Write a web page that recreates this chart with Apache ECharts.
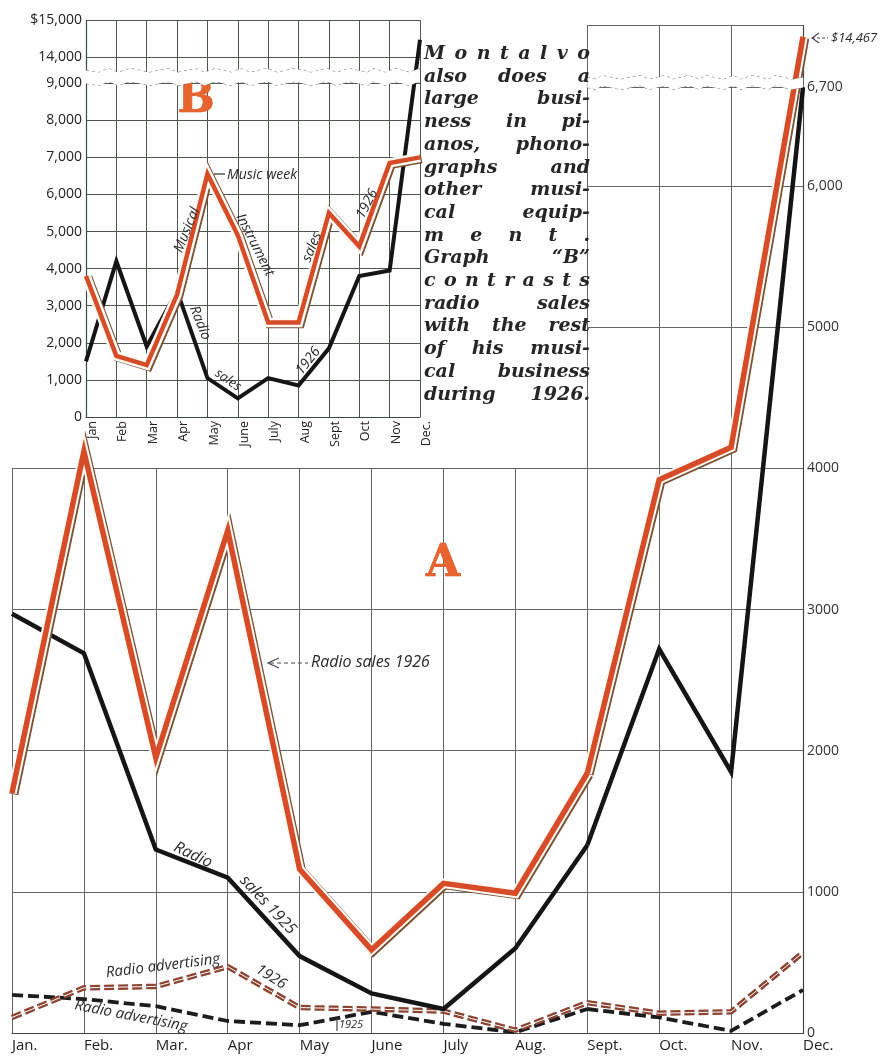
<!DOCTYPE html>
<html>
<head>
<meta charset="utf-8">
<title>Montalvo radio sales</title>
<script src="https://cdn.jsdelivr.net/npm/echarts@6.0.0/dist/echarts.min.js"></script>
<style>
  html, body { margin: 0; padding: 0; background: #fff; }
  #wrap { position: relative; width: 888px; height: 1057px; }
  #chart { width: 888px; height: 1057px; }
  #note {
    position: absolute; left: 424px; top: 41px; width: 166px;
    font-family: "DejaVu Serif", serif; font-style: italic; font-weight: bold;
    font-size: 19px; line-height: 22.7px; color: #262626;
  }
  #note div { text-align: justify; text-align-last: justify; white-space: nowrap; }
</style>
</head>
<body>
<div id="wrap">
  <div id="chart"></div>
  <div id="note"></div>
</div>
<script>
  // ---- data ----
  const months = ['Jan.', 'Feb.', 'Mar.', 'Apr', 'May', 'June', 'July', 'Aug.', 'Sept.', 'Oct.', 'Nov.', 'Dec.'];
  const monthsB = ['Jan', 'Feb', 'Mar', 'Apr', 'May', 'June', 'July', 'Aug', 'Sept', 'Oct', 'Nov', 'Dec.'];

  // graph A
  const radioSales1926 = [1700, 4120, 1950, 3560, 1160, 590, 1060, 990, 1840, 3920, 4150, 14467];
  const radioSales1925 = [2970, 2690, 1300, 1100, 545, 280, 170, 600, 1330, 2720, 1850, 6700];
  const radioAdv1926 = [110, 320, 330, 470, 180, 170, 155, 20, 215, 140, 150, 570];
  const radioAdv1925 = [270, 240, 190, 85, 55, 150, 65, 5, 170, 110, 15, 305];
  const aTickValues = [0, 1000, 2000, 3000, 4000, 5000, 6000, 6700, 14550];
  const aTickLabels = ['0', '1000', '2000', '3000', '4000', '5000', '6,000', '6,700', ''];

  // graph B
  const bRadioSales1926 = [1500, 4200, 1900, 3400, 1050, 500, 1050, 850, 1850, 3800, 3950, 14467];
  const bMusicalSales1926 = [3800, 1650, 1400, 3300, 6550, 4900, 2550, 2550, 5500, 4600, 6850, 7000];
  const bTickValues = [0, 1000, 2000, 3000, 4000, 5000, 6000, 7000, 8000, 9000, 14000, 15000];
  const bTickLabels = ['0', '1,000', '2,000', '3,000', '4,000', '5,000', '6,000', '7,000', '8,000', '9,000', '14,000', '$15,000'];

  const noteLines = ['Montalvo', 'also does a', 'large busi-', 'ness in pi-', 'anos, phono-', 'graphs and',
    'other musi-', 'cal equip-', 'ment.', 'Graph \u201cB\u201d', 'contrasts', 'radio sales',
    'with the rest', 'of his musi-', 'cal business', 'during 1926.'];

  // ---- side text (justified column) ----
  const noteEl = document.getElementById('note');
  const colW = 166;
  noteLines.forEach((t) => {
    const d = document.createElement('div');
    d.textContent = t;
    noteEl.appendChild(d);
    const span = document.createElement('span');
    span.textContent = t;
    span.style.whiteSpace = 'nowrap';
    span.style.position = 'absolute';
    span.style.visibility = 'hidden';
    noteEl.appendChild(span);
    const w = span.getBoundingClientRect().width;
    span.remove();
    if (t.indexOf(' ') < 0) {
      d.style.letterSpacing = ((colW - w) / (t.length - 1)) + 'px';
    } else if (w > colW) {
      d.style.letterSpacing = ((colW - w) / t.length) + 'px';
    }
  });

  // ---- chart ----
  const chart = echarts.init(document.getElementById('chart'));
  const SEPT = 8;
  const L = (a) => a.slice(0, SEPT + 1);
  const R = (a) => a.slice(SEPT);
  const step = (803 - 12) / 11;
  const sansFont = '"Open Sans", "DejaVu Sans", sans-serif';
  const gridColor = '#666';

  const redUnder = { color: '#fffaf3', width: 9.5, join: 'miter', shadowColor: '#7a5234', shadowOffsetX: 1.6, shadowOffsetY: 1.2, shadowBlur: 0 };
  const redTop = { color: '#d64c28', width: 5.5, join: 'miter' };
  const blackSolid = { color: '#151515', width: 4.5, join: 'miter' };
  const advUnder = { color: '#8b4332', width: 5.5, type: [10, 4] };
  const advTop = { color: '#fff', width: 1, type: [10, 4] };
  const advBlack = { color: '#1c1c1c', width: 3.8, type: [11, 5] };

  function line(axis, data, lineStyle, z) {
    return {
      type: 'line', xAxisIndex: axis, yAxisIndex: axis, data: data, lineStyle: lineStyle, z: z,
      symbol: 'none', silent: true, clip: axis !== 0, animation: false
    };
  }

  const series = [];
  [[0, L], [1, R]].forEach(([ax, part]) => {
    series.push(line(ax, part(radioAdv1925), advBlack, 2));
    series.push(line(ax, part(radioAdv1926), advUnder, 3));
    series.push(line(ax, part(radioAdv1926), advTop, 4));
    series.push(line(ax, part(radioSales1925), blackSolid, 5));
    series.push(line(ax, part(radioSales1926), redUnder, 6));
    series.push(line(ax, part(radioSales1926), redTop, 7));
  });
  series.push(line(2, bRadioSales1926, Object.assign({}, blackSolid, { width: 4 }), 5));
  series.push(line(2, bMusicalSales1926, redUnder, 6));
  series.push(line(2, bMusicalSales1926, Object.assign({}, redTop, { width: 4.5 }), 7));

  const deg = (d) => d * Math.PI / 180;
  function note(text, x, y, rot, size, extra) {
    return {
      type: 'text', x: x, y: y, rotation: deg(rot || 0), z: 30, silent: true,
      style: Object.assign({
        text: text, font: 'italic ' + size + 'px ' + sansFont, fill: '#2a2a2a',
        align: 'center', verticalAlign: 'middle'
      }, extra || {})
    };
  }
  function seg(x1, y1, x2, y2, dash, color) {
    return { type: 'line', z: 30, silent: true, shape: { x1, y1, x2, y2 },
      style: { stroke: color || '#4d4558', lineWidth: 1.2, lineDash: dash || null } };
  }
  function head(points, color) {
    return { type: 'polyline', z: 30, silent: true, shape: { points: points },
      style: { stroke: color || '#4d4558', lineWidth: 1.2, fill: null } };
  }
  const bigLetter = (t, x, y) => ({
    type: 'text', x: x, y: y, z: 30, silent: true,
    style: { text: t, font: 'bold 44px "DejaVu Serif", serif', fill: '#e8642f', stroke: '#c8451e', lineWidth: 0.6, align: 'center', verticalAlign: 'middle' }
  });

  const breakStyle = { color: '#fff', borderColor: '#666', borderWidth: 1, opacity: 1 };

  const option = {
    animation: false,
    backgroundColor: '#fff',
    grid: [
      { id: 'aLeft', left: 12, right: 888 - (12 + SEPT * step), top: 468, bottom: 24, outerBoundsMode: 'none' },
      { id: 'aRight', left: 12 + SEPT * step, right: 85, top: 25, bottom: 24, outerBoundsMode: 'none' },
      { id: 'b', left: 86, right: 468, top: 20, bottom: 640, outerBoundsMode: 'none' }
    ],
    xAxis: [
      {
        gridIndex: 0, type: 'category', data: L(months), boundaryGap: false,
        axisLine: { lineStyle: { color: '#444', width: 1.2 } }, axisTick: { show: false },
        splitLine: { show: true, lineStyle: { color: gridColor, width: 1 } },
        axisLabel: { interval: 0, align: 'left', margin: 5, color: '#222', fontSize: 15, fontFamily: sansFont }
      },
      {
        gridIndex: 1, type: 'category', data: R(months), boundaryGap: false,
        axisLine: { lineStyle: { color: '#444', width: 1.2 } }, axisTick: { show: false },
        splitLine: { show: true, lineStyle: { color: gridColor, width: 1 } },
        axisLabel: { interval: 0, align: 'left', margin: 5, color: '#222', fontSize: 15, fontFamily: sansFont,
          formatter: (v, i) => (i === 0 ? '' : v) }
      },
      {
        gridIndex: 2, type: 'category', data: monthsB, boundaryGap: false,
        axisLine: { lineStyle: { color: '#3b4a3b', width: 1.2 } }, axisTick: { show: false },
        splitLine: { show: true, lineStyle: { color: '#4c574c', width: 1 } },
        axisLabel: { interval: 0, rotate: 90, verticalAlign: 'top', margin: 4, color: '#222', fontSize: 12.5, fontFamily: sansFont }
      }
    ],
    yAxis: [
      {
        gridIndex: 0, type: 'value', min: 0, max: 4000, interval: 1000,
        axisLine: { show: false }, axisTick: { show: false }, axisLabel: { show: false },
        splitLine: { show: true, lineStyle: { color: gridColor, width: 1 } }
      },
      {
        gridIndex: 1, type: 'value', position: 'right', min: 0, max: 14550,
        breaks: [{ start: 6700, end: 14180, gap: '1%' }],
        breakArea: { show: true, itemStyle: breakStyle, zigzagAmplitude: 2, zigzagZ: 100, expandOnClick: false },
        axisLine: { show: true, lineStyle: { color: '#444', width: 1.2 } },
        axisTick: { show: false, customValues: aTickValues },
        splitLine: { show: true, lineStyle: { color: gridColor, width: 1 } },
        axisLabel: {
          customValues: aTickValues, margin: 4, color: '#333', fontSize: 14, fontFamily: sansFont,
          formatter: (v) => { const i = aTickValues.indexOf(v); return i < 0 ? '' : aTickLabels[i]; }
        }
      },
      {
        gridIndex: 2, type: 'value', min: 0, max: 15000,
        breaks: [{ start: 9000, end: 13650, gap: '3.3%' }],
        breakArea: { show: true, itemStyle: breakStyle, zigzagAmplitude: 2, zigzagZ: 100, expandOnClick: false },
        axisLine: { show: true, lineStyle: { color: '#3b4a3b', width: 1.2 } },
        axisTick: { show: false, customValues: bTickValues },
        splitLine: { show: true, lineStyle: { color: '#4c574c', width: 1 } },
        axisLabel: {
          customValues: bTickValues, margin: 4, color: '#222', fontSize: 14, fontFamily: sansFont,
          formatter: (v) => { const i = bTickValues.indexOf(v); return i < 0 ? '' : bTickLabels[i]; }
        }
      }
    ],
    series: series,
    graphic: [
      bigLetter('A', 443, 565),
      bigLetter('B', 196, 101),
      // graph A notes
      note('Radio sales 1926', 311, 662, 0, 16, { align: 'left' }),
      seg(270, 663, 308, 663, [4, 3]),
      head([[279, 658], [268, 663], [279, 668]]),
      note('Radio', 193, 855, -25, 16),
      note('sales 1925', 268, 905, -47, 16),
      note('Radio advertising', 163, 966, 7, 15),
      note('1926', 271, 977, -32, 15),
      note('Radio advertising', 131, 1016, -11, 15),
      note('1925', 351, 1025, 0, 11),
      seg(337, 1018, 337, 1031, null, '#444'),
      note('$14,467', 831, 38, 0, 13, { align: 'left' }),
      seg(812, 38, 828, 38, [3, 2]),
      head([[819, 33], [812, 38], [819, 43]]),
      // graph B notes
      note('Music week', 227, 175, 0, 14, { align: 'left' }),
      seg(214, 174, 225, 174, null, '#333'),
      note('Musical', 187, 230, 68, 14),
      note('Instrument', 255, 245, -63, 14),
      note('sales', 312, 247, 68, 14),
      note('1926', 367, 204, 62, 14),
      note('Radio', 200, 323, -68, 14),
      note('sales', 228, 380, -35, 13),
      note('1926', 308, 361, 52, 14)
    ]
  };

  chart.setOption(option);
  // match the left panel's scale to the right panel's lower segment
  const y4000 = chart.convertToPixel({ yAxisIndex: 1 }, 4000);
  if (isFinite(y4000)) {
    chart.setOption({ grid: [{ id: 'aLeft', top: y4000 }] });
  }
</script>
</body>
</html>
